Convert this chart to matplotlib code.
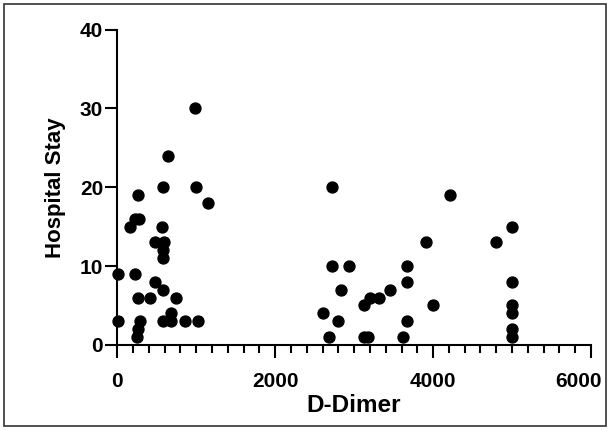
import matplotlib
matplotlib.use("Agg")
import matplotlib.pyplot as plt
from matplotlib.patches import Rectangle
from matplotlib.ticker import MultipleLocator
from matplotlib.transforms import ScaledTranslation

# D-Dimer vs hospital stay
d_dimer = [980, 640, 575, 1000, 1150, 270, 230, 280, 165, 570,
           480, 590, 585, 585, 10, 230, 480, 575, 270, 410,
           740, 680, 10, 290, 575, 680, 860, 1020, 270, 250,
           2720, 4220, 3910, 2720, 2930, 3670, 3670, 2840, 3450, 3200,
           3310, 3130, 4000, 2600, 2800, 3670, 2680, 3120, 3180, 3620,
           5000, 4800, 5000, 5000, 5000, 5000, 5000]
stay = [30, 24, 20, 20, 18, 19, 16, 16, 15, 15,
        13, 13, 12, 11, 9, 9, 8, 7, 6, 6,
        6, 4, 3, 3, 3, 3, 3, 3, 2, 1,
        20, 19, 13, 10, 10, 10, 8, 7, 7, 6,
        6, 5, 5, 4, 3, 3, 1, 1, 1, 1,
        15, 13, 8, 5, 4, 2, 1]

x_ticks = [0, 2000, 4000, 6000]
y_ticks = [0, 10, 20, 30, 40]

plt.rcParams['font.family'] = ['Liberation Sans', 'DejaVu Sans']
plt.rcParams['font.weight'] = 'bold'

fig = plt.figure(figsize=(6.1, 4.3), dpi=100)
ax = fig.add_axes([0.192, 0.198, 0.777, 0.733])

ax.scatter(d_dimer, stay, s=62, color='black', clip_on=False, zorder=3)

ax.set_xlim(0, 6000)
ax.set_ylim(0, 40)
ax.set_xticks(x_ticks)
ax.set_yticks(y_ticks)
ax.xaxis.set_minor_locator(MultipleLocator(200))

for side in ['top', 'right']:
    ax.spines[side].set_visible(False)
for side in ['left', 'bottom']:
    ax.spines[side].set_linewidth(1.5)

ax.tick_params(axis='x', which='major', length=9.5, width=1.5, labelsize=15, pad=10)
ax.tick_params(axis='x', which='minor', length=6, width=1.5)
ax.tick_params(axis='y', which='major', length=9, width=1.5, labelsize=15, pad=1)
for lab in ax.get_xticklabels() + ax.get_yticklabels():
    lab.set_fontweight('bold')

ax.set_xlabel('D-Dimer', fontsize=17.5, fontweight='bold', labelpad=2)
ax.set_ylabel('Hospital Stay', fontsize=16, fontweight='bold', labelpad=10)

# last x label sits a little left so it stays inside the frame
last = ax.get_xticklabels()[-1]
last.set_transform(last.get_transform() + ScaledTranslation(-9 / 72, 0, fig.dpi_scale_trans))

# thin frame around the whole picture
fig.patches.append(Rectangle((0.007, 0.01), 0.986, 0.98, transform=fig.transFigure,
                             fill=False, edgecolor='#333333', linewidth=1.2))

fig.savefig('out.png', dpi=100)
